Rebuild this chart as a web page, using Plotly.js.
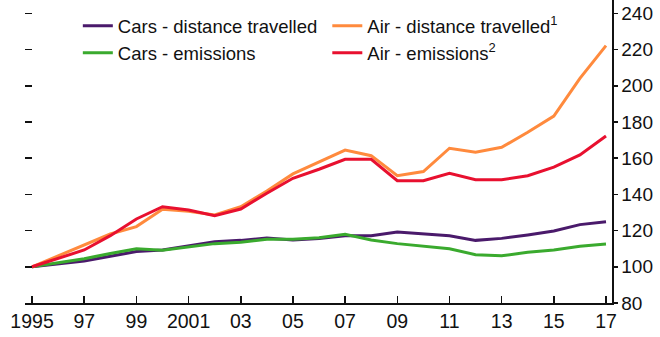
<!DOCTYPE html>
<html>
<head>
<meta charset="utf-8">
<script src="https://cdn.plot.ly/plotly-3.0.1.min.js"></script>
<style>
html,body{margin:0;padding:0;background:#fff;}
#chart{width:660px;height:337px;}
</style>
</head>
<body>
<div id="chart"></div>
<script>
const years = [1995,1996,1997,1998,1999,2000,2001,2002,2003,2004,2005,2006,2007,2008,2009,2010,2011,2012,2013,2014,2015,2016,2017];
const carsDistance = [100,101.6,103.2,105.8,108.4,109.3,111.5,113.9,114.6,115.9,114.8,115.7,117.2,117.2,119.2,118,117.2,114.6,115.7,117.6,119.8,123.3,124.9];
const carsEmissions = [100,102.4,104.5,107.4,110,109.1,111.1,112.8,113.5,115.2,115.2,116,118,114.8,112.8,111.3,110,106.7,106.1,108,109.3,111.4,112.6];
const airDistance = [100,106,111.9,118.1,122.2,131.8,130.7,128.6,133.2,141.9,151.3,157.7,164.5,161.4,150.3,152.6,165.5,163.3,166,174.3,183.3,204.1,222.2];
const airEmissions = [100,104.5,109.3,117.2,126.4,133.2,131.4,128.2,131.9,140.6,148.9,153.9,159.4,159.4,147.6,147.6,151.7,148.1,148.1,150.3,155.1,161.8,172.3];
const tickYears = [1995,1997,1999,2001,2003,2005,2007,2009,2011,2013,2015,2017];
const tickYearLabels = ['1995','97','99','2001','03','05','07','09','11','13','15','17'];
const yTicks = [80,100,120,140,160,180,200,220,240];
const seriesNames = ['Cars - distance travelled','Cars - emissions','Air - distance travelled<sup>1</sup>','Air - emissions<sup>2</sup>'];
const seriesColors = ['#4a1a6b','#3aaa2e','#ff8a3d','#e8102f'];
const seriesLegends = ['legend','legend','legend2','legend2'];
const seriesData = [carsDistance, carsEmissions, airDistance, airEmissions];

const FONT = '"Liberation Sans Narrow", "Arial Narrow", "Liberation Sans", Arial, sans-serif';
const FS = 18.5;

const traces = seriesData.map((d,i)=>({
  x: years, y: d, type:'scatter', mode:'lines', name: seriesNames[i],
  line:{color: seriesColors[i], width:3}, xaxis:'x', yaxis:'y', legend: seriesLegends[i]
}));
traces.push({x:[years[0]], y:[100], xaxis:'x', yaxis:'y2', mode:'markers', marker:{opacity:0}, showlegend:false, hoverinfo:'skip'});

const legendCommon = {orientation:'v', yanchor:'top', xanchor:'left', bgcolor:'rgba(0,0,0,0)',
  font:{family:FONT, size:FS, color:'#111'}, tracegroupgap:0, itemwidth:30, traceorder:'normal'};

const layout = {
  width:660, height:337,
  margin:{l:25, r:48, t:0, b:34},
  paper_bgcolor:'#fff', plot_bgcolor:'#fff',
  font:{family:FONT, size:FS, color:'#111'},
  showlegend:true,
  legend:Object.assign({}, legendCommon, {x:0.09, y:0.976}),
  legend2:Object.assign({}, legendCommon, {x:0.515, y:0.976}),
  xaxis:{range:[1994.73, 2017.23], tickvals:tickYears, ticktext:tickYearLabels,
    ticks:'inside', ticklen:7, tickwidth:1.5, tickcolor:'#111',
    showline:true, linecolor:'#111', linewidth:1.5, showgrid:false, zeroline:false,
    tickfont:{family:FONT, size:19.5, color:'#111'}, fixedrange:true},
  yaxis:{range:[80, 247.4], side:'right', tickvals:yTicks, ticks:'outside', ticklen:4, tickwidth:1.5,
    tickcolor:'#111', showline:true, linecolor:'#111', linewidth:1.5, showgrid:false, zeroline:false,
    tickfont:{family:FONT, size:19, color:'#111'}, fixedrange:true},
  yaxis2:{range:[80, 247.4], overlaying:'y', side:'left', tickvals:yTicks, ticks:'inside', ticklen:7,
    tickwidth:1.5, tickcolor:'#111', showline:false, showticklabels:false, showgrid:false, zeroline:false, fixedrange:true}
};

Plotly.newPlot('chart', traces, layout, {staticPlot:true, displayModeBar:false});
</script>
</body>
</html>
